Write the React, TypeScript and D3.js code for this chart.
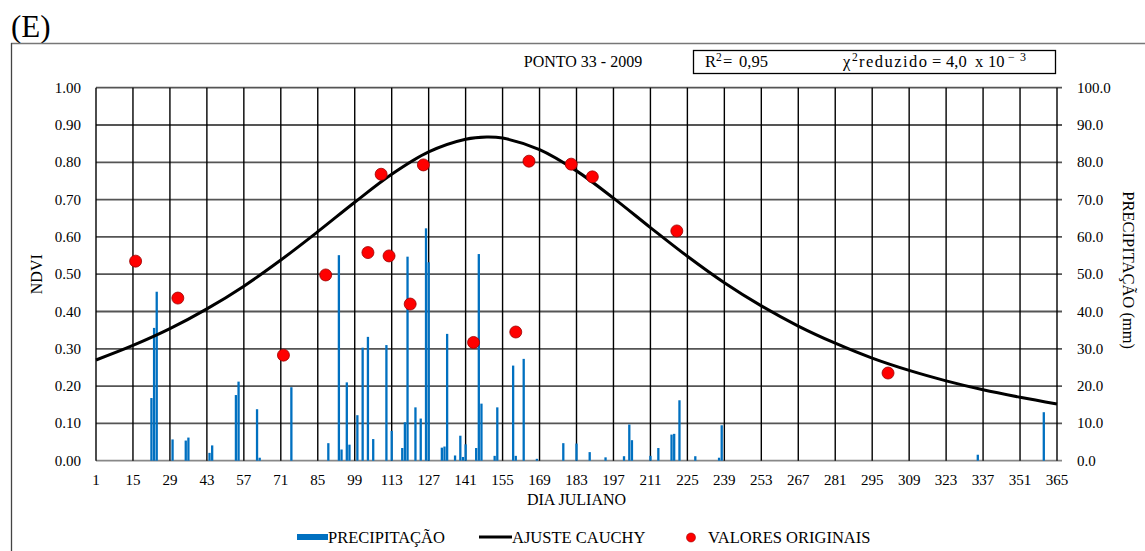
import React from "react";
import * as d3 from "d3";

// ---- Data ----
const precipDays = [22, 23, 24, 30, 35, 36, 44, 45, 54, 55, 62, 63, 75, 89, 93, 94, 96, 97, 100, 102, 104, 106, 111, 113, 117, 118, 119, 122, 124, 126, 127, 132, 133, 134, 137, 139, 140, 141, 145, 146, 147, 152, 153, 159, 160, 163, 168, 178, 183, 188, 194, 201, 203, 204, 211, 214, 219, 220, 222, 228, 237, 238, 335, 360];
const precipValues = [16.8, 35.6, 45.3, 5.7, 5.4, 6.2, 2.1, 4.1, 17.6, 21.2, 13.8, 0.8, 19.7, 4.7, 55.1, 3.0, 21.0, 4.3, 12.2, 30.3, 33.2, 5.8, 31.0, 8.0, 3.4, 10.3, 54.7, 14.3, 11.3, 62.3, 53.2, 3.5, 3.8, 34.0, 1.4, 6.7, 1.0, 4.4, 3.4, 55.4, 15.3, 1.3, 14.3, 25.5, 1.3, 27.3, 0.5, 4.7, 4.6, 2.3, 0.9, 1.2, 9.7, 5.5, 1.3, 3.4, 7.0, 7.2, 16.2, 1.2, 0.8, 9.5, 1.6, 13.0];

const ndviDays = [16, 32, 72, 88, 104, 109, 112, 120, 125, 144, 160, 165, 181, 189, 221, 301];
const ndviValues = [0.535, 0.436, 0.283, 0.498, 0.558, 0.768, 0.549, 0.42, 0.793, 0.317, 0.345, 0.803, 0.795, 0.761, 0.616, 0.235];

const fitDays = [1, 15, 29, 43, 57, 71, 85, 99, 113, 127, 141, 149, 155, 169, 183, 197, 211, 225, 239, 253, 267, 281, 295, 309, 323, 337, 351, 365];
const fitValues = [0.27, 0.309, 0.354, 0.407, 0.468, 0.538, 0.614, 0.693, 0.768, 0.828, 0.862, 0.868, 0.865, 0.834, 0.777, 0.704, 0.625, 0.548, 0.477, 0.415, 0.361, 0.315, 0.275, 0.242, 0.214, 0.19, 0.17, 0.152];

const xTicks = d3.range(1, 366, 14);
const ndviTicks = d3.range(0, 1.0001, 0.1);
const precipTicks = d3.range(0, 100.001, 10);

const W = 1145;
const H = 551;
const L = 96, R = 1057, T = 87.7, B = 460.7;
const FONT = "'Liberation Serif', 'Times New Roman', serif";

export default function App() {
  const x = d3.scaleLinear().domain([1, 365]).range([L, R]);
  const y = d3.scaleLinear().domain([0, 1]).range([B, T]);
  const yp = d3.scaleLinear().domain([0, 100]).range([B, T]);

  const line = d3
    .line<number>()
    .x((_, i) => x(fitDays[i]))
    .y((d) => y(d))
    .curve(d3.curveCatmullRom.alpha(0.5));

  const barW = 2.3;

  return (
    <svg
      width={W}
      height={H}
      style={{ position: "absolute", left: 0, top: 0, background: "#fff" }}
      fontFamily={FONT}
    >
      <rect x={0} y={0} width={W} height={H} fill="#fff" />
      {/* panel label */}
      <text x={11} y={37} fontSize={31} fill="#000">(E)</text>
      {/* outer frame */}
      <line x1={11} y1={43.5} x2={W} y2={43.5} stroke="#777" strokeWidth={1.3} />
      <line x1={11.5} y1={43} x2={11.5} y2={H} stroke="#444" strokeWidth={1.3} />

      {/* title */}
      <text x={583} y={67} fontSize={16} textAnchor="middle">PONTO 33 - 2009</text>
      <rect x={693.5} y={50.5} width={362} height={23} fill="none" stroke="#000" strokeWidth={1.3} />
      <text y={67} fontSize={16.5}>
        <tspan x={705}>R</tspan>
        <tspan x={716} dy={-6} fontSize={11.5}>2</tspan>
        <tspan x={723} dy={6}>=</tspan>
        <tspan x={739}>0,95</tspan>
      </text>
      <text y={67} fontSize={16.5}>
        <tspan x={843}>χ</tspan>
        <tspan x={852} dy={-6} fontSize={11.5}>2</tspan>
        <tspan x={859} dy={6} textLength={68} lengthAdjust="spacing">reduzido</tspan>
        <tspan x={932}>=</tspan>
        <tspan x={946}>4,0</tspan>
        <tspan x={975}>x</tspan>
        <tspan x={988}>10</tspan>
      </text>
      <text x={1008} y={61} fontSize={12}>
        <tspan x={1008}>−</tspan>
        <tspan x={1020}>3</tspan>
      </text>

      {/* gridlines */}
      {ndviTicks.map((t, i) => (
        <line key={"h" + i} x1={L} x2={R + 5} y1={y(t)} y2={y(t)} stroke={i === 0 ? "#888" : "#555"} strokeWidth={1.8} />
      ))}
      {xTicks.map((t) => (
        <line key={"v" + t} x1={x(t)} x2={x(t)} y1={T} y2={B} stroke="#000" strokeWidth={1.4} />
      ))}

      {/* bars */}
      {precipDays.map((d, i) => (
        <rect
          key={"b" + i}
          x={x(d) - barW / 2}
          y={yp(precipValues[i])}
          width={barW}
          height={B - yp(precipValues[i])}
          fill="#0070C0"
        />
      ))}

      {/* fit curve */}
      <path d={line(fitValues) || ""} fill="none" stroke="#000" strokeWidth={3} />

      {/* original points */}
      {ndviDays.map((d, i) => (
        <circle key={"p" + i} cx={x(d)} cy={y(ndviValues[i])} r={6} fill="#FF0000" stroke="#9a0000" strokeWidth={0.8} />
      ))}

      {/* left axis labels */}
      {ndviTicks.map((t, i) => (
        <text key={"yl" + i} x={81} y={y(t) + 5} fontSize={15} textAnchor="end">
          {t.toFixed(2)}
        </text>
      ))}
      <text transform={`translate(42,${(T + B) / 2}) rotate(-90)`} fontSize={16} textAnchor="middle">NDVI</text>

      {/* right axis labels */}
      {precipTicks.map((t, i) => (
        <text key={"yr" + i} x={1077} y={yp(t) + 5} fontSize={15}>
          {t.toFixed(1)}
        </text>
      ))}
      <text transform={`translate(1123,${(T + B) / 2 - 4}) rotate(90)`} fontSize={16.5} textAnchor="middle">PRECIPITAÇÃO (mm)</text>

      {/* x axis labels */}
      {xTicks.map((t) => (
        <text key={"xl" + t} x={x(t)} y={485} fontSize={15} textAnchor="middle">
          {t}
        </text>
      ))}
      <text x={(L + R) / 2} y={505} fontSize={16} textAnchor="middle">DIA JULIANO</text>

      {/* legend */}
      <rect x={297} y={534} width={31} height={6} fill="#0070C0" />
      <text x={328} y={543} fontSize={16.5}>PRECIPITAÇÃO</text>
      <line x1={479} x2={512} y1={537} y2={537} stroke="#000" strokeWidth={3} />
      <text x={512} y={543} fontSize={16.5}>AJUSTE CAUCHY</text>
      <circle cx={691} cy={537.5} r={4.5} fill="#FF0000" stroke="#9a0000" strokeWidth={0.6} />
      <text x={708} y={543} fontSize={16.5}>VALORES ORIGINAIS</text>
    </svg>
  );
}
